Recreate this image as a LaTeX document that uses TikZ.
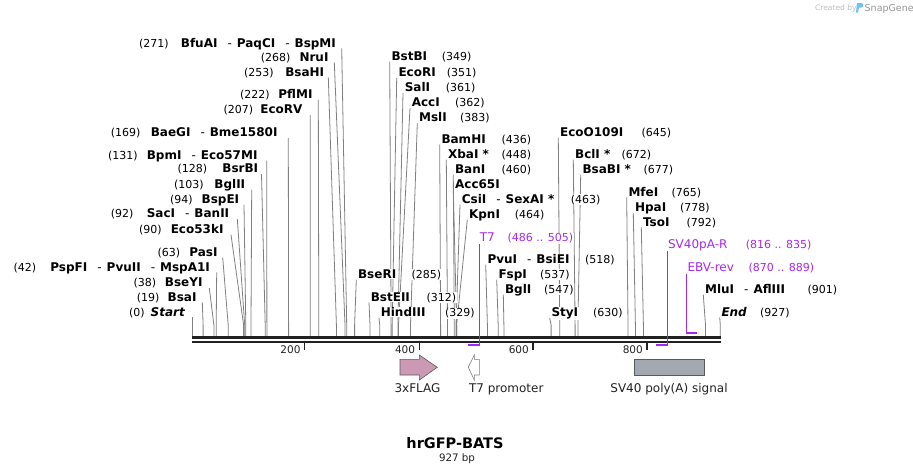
\documentclass[tikz,border=0pt]{standalone}
\usepackage{fontspec}
\setmainfont{DejaVu Sans}[ItalicFont={DejaVu Sans Oblique},BoldFont={DejaVu Sans Bold},BoldItalicFont={DejaVu Sans Bold Oblique}]
\definecolor{sitegray}{RGB}{128,128,128}
\definecolor{bbcol}{RGB}{34,34,34}
\definecolor{primer}{RGB}{164,41,240}
\definecolor{flag}{RGB}{204,153,180}
\definecolor{featedge}{RGB}{90,90,90}
\definecolor{sv40}{RGB}{163,169,176}
\definecolor{credit}{RGB}{190,190,190}
\definecolor{creditb}{RGB}{150,150,150}
\definecolor{logo}{RGB}{110,195,240}
\pgfdeclarelayer{bg}
\pgfsetlayers{bg,main}
\newcommand\dsh{\hspace{10pt}{\mdseries-}\hspace{5pt}}
% left group: id, xR, yc, line x, site x, num x, num, names
\newcommand\LS[8]{%
  \begin{pgfonlayer}{bg}
  \draw[sl] (#4,{#3+5.7}) coordinate (#1a) -- (#5,325) coordinate (#1b) -- (#5,336.3) coordinate (#1c);
  \end{pgfonlayer}
  \node[num,anchor=base west] (#1m) at (#6,{#3+4.4}) {#7};
  \node[enz,anchor=base east] (#1n) at (#2,{#3+4.4}) {#8};
}
% right group: id, xL, yc, site x, names, num x, num
\newcommand\RS[7]{%
  \begin{pgfonlayer}{bg}
  \draw[sl] ({#2-1},{#3+5.7}) coordinate (#1a) -- (#4,325) coordinate (#1b) -- (#4,336.3) coordinate (#1c);
  \end{pgfonlayer}
  \node[enz,anchor=base west] (#1n) at (#2,{#3+4.4}) {#5};
  \node[num,anchor=base west] (#1m) at (#6,{#3+4.4}) {#7};
}
\tikzset{
  enz/.style={font=\fontsize{12}{14}\selectfont\bfseries, inner sep=0.6pt, fill=white, text=black},
  num/.style={font=\fontsize{11}{13}\selectfont, inner sep=0.6pt, fill=white, text=black},
  prm/.style={font=\fontsize{12}{14}\selectfont, inner sep=0.6pt, fill=white, text=primer},
  prmn/.style={font=\fontsize{11}{13}\selectfont, inner sep=0.6pt, fill=white, text=primer},
  sl/.style={draw=sitegray, line width=0.8pt},
  feat/.style={font=\fontsize{12}{14}\selectfont, inner sep=0.5pt, text=bbcol},
  ticklab/.style={font=\fontsize{10.5}{12}\selectfont, inner sep=0.5pt, text=bbcol, anchor=base east},
  tickmark/.style={draw=bbcol, line width=1.4pt},
  pline/.style={draw=primer, line width=1pt},
  pbar/.style={draw=primer, line width=2pt},
}
\begin{document}
\begin{tikzpicture}[x=1pt,y=-1pt]
\useasboundingbox (0,0) rectangle (913,475);
\begin{pgfonlayer}{bg}
\fill[white] (0,0) rectangle (913,475);
\end{pgfonlayer}

% credit
\node[font=\fontsize{7.5}{9}\selectfont, text=credit, anchor=base west, inner sep=0] (cr) at (815,10.5) {Created by};
\fill[logo] (857,3) -- (861.5,3) .. controls (863.5,3) and (863.5,7.5) .. (861.5,7.5) -- (859,7.5) -- (858,12.5) -- (856,12.5) -- cycle;
\node[font=\fontsize{9.5}{11}\selectfont, text=creditb, anchor=base west, inner sep=0] (sg) at (864.5,11) {SnapGene};

% backbone
\draw[bbcol, line width=2.7pt] (192.3,337.3) coordinate (bbs) -- (720.7,337.3) coordinate (bbe);
\draw[bbcol, line width=2pt] (192.3,341.5) -- (720.7,341.5);
\foreach \tx/\tl in {304.7/200,419.3/400,533/600,647/800}{
  \draw[tickmark] (\tx,342.3) -- (\tx,349.5);
  \node[ticklab] at ({\tx-3.5},353) {\tl};
}

% left group
\LS{a271}{336.7}{42.7}{341.7}{346.7}{138.3}{(271)}{BfuAI\dsh PaqCI\dsh BspMI}
\LS{a268}{329.3}{56.7}{334.3}{345.0}{260}{(268)}{NruI}
\LS{a253}{325}{71.7}{328.3}{336.4}{243.3}{(253)}{BsaHI}
\LS{a222}{313.3}{94}{318.3}{318.8}{239.3}{(222)}{PflMI}
\LS{a207}{303.3}{109.3}{310.3}{310.2}{222.7}{(207)}{EcoRV}
\LS{a169}{278.3}{132.3}{288.3}{288.6}{110}{(169)}{BaeGI\dsh Bme1580I}
\LS{a131}{258.3}{155}{266.7}{266.9}{107.3}{(131)}{BpmI\dsh Eco57MI}
\LS{a128}{259}{168.3}{261.5}{265.2}{176.7}{(128)}{BsrBI}
\LS{a103}{246}{184}{251.7}{251.0}{173.3}{(103)}{BglII}
\LS{a94}{240}{199}{244}{245.8}{169.3}{(94)}{BspEI}
\LS{a92}{230}{213.3}{237.3}{244.7}{110}{(92)}{SacI\dsh BanII}
\LS{a90}{224.3}{229}{231}{243.6}{138.3}{(90)}{Eco53kI}
\LS{a63}{218.3}{251.7}{222.7}{228.2}{156.7}{(63)}{PasI}
\LS{a42}{210.7}{266.7}{216.7}{216.2}{12.7}{(42)}{PspFI\dsh PvuII\dsh MspA1I}
\LS{a38}{203.3}{282.3}{209.3}{213.9}{132.7}{(38)}{BseYI}
\LS{a19}{197.3}{296.7}{202.3}{203.1}{136}{(19)}{BsaI}
\LS{a0}{186}{311.7}{192.3}{192.3}{128.3}{(0)}{\textit{Start}}

% right group
\RS{b349}{390.7}{56}{391.1}{BstBI}{441}{(349)}
\RS{b351}{397.7}{72.3}{392.2}{EcoRI}{446}{(351)}
\RS{b361}{404}{87.3}{397.9}{SalI}{445}{(361)}
\RS{b362}{411}{102.3}{398.5}{AccI}{454.3}{(362)}
\RS{b383}{418.3}{117.3}{410.5}{MslI}{459.3}{(383)}
\RS{b436}{440.7}{139}{440.6}{BamHI}{500.7}{(436)}
\RS{b448}{447.3}{154}{447.5}{XbaI~*}{500.7}{(448)}
\RS{b460}{454.3}{169}{454.3}{BanI}{500.7}{(460)}
\begin{pgfonlayer}{bg}
\draw[sl] (453.3,189.7) coordinate (b464xa) -- (456.6,325) coordinate (b464xb) -- (456.6,336.3) coordinate (b464xc);
\end{pgfonlayer}
\node[enz,anchor=base west] (b464xn) at (454.3,188.4) {Acc65I};
\RS{b463}{461}{199}{456.0}{CsiI\dsh SexAI~*}{570}{(463)}
\RS{b464}{468.3}{214}{456.6}{KpnI}{514}{(464)}
\RS{b518}{486.7}{259}{487.4}{PvuI\dsh BsiEI}{584.3}{(518)}
\RS{b537}{497.7}{274}{498.2}{FspI}{539.3}{(537)}
\RS{b547}{504.3}{289}{503.9}{BglI}{543.3}{(547)}
\RS{b630}{550.7}{312.3}{551.1}{StyI}{592.3}{(630)}
\RS{b285}{357.3}{274}{354.6}{BseRI}{410.7}{(285)}
\RS{b312}{370}{296.7}{370.0}{BstEII}{425.7}{(312)}
\RS{b329}{380}{312.3}{379.7}{HindIII}{444.3}{(329)}
\RS{b645}{559.3}{132}{559.7}{EcoO109I}{640.7}{(645)}
\RS{b672}{574.3}{154}{575.1}{BclI~*}{620.7}{(672)}
\RS{b677}{581.7}{169}{577.9}{BsaBI~*}{642.7}{(677)}
\RS{b765}{627.7}{191.7}{628.0}{MfeI}{670.7}{(765)}
\RS{b778}{634.3}{207.3}{635.4}{HpaI}{679.3}{(778)}
\RS{b792}{642.3}{221.7}{643.4}{TsoI}{685.7}{(792)}
\RS{b901}{704.3}{289}{705.5}{MluI\dsh AflIII}{806.7}{(901)}
\RS{b927}{720.7}{311.7}{720.3}{\textit{End}}{759.3}{(927)}

% primers
\node[prm,anchor=base west] (t7n) at (479,241.7) {T7};
\node[prmn,anchor=base west] (t7m) at (506.7,241.7) {(486 .. 505)};
\draw[pline] (479.3,243.5) coordinate (t7a) -- (479.3,345.3) coordinate (t7b);
\draw[pbar] (468.3,345.3) coordinate (t7c) -- (480,345.3);
\node[prm,anchor=base west] (svn) at (667.3,248.4) {SV40pA-R};
\node[prmn,anchor=base west] (svm) at (745,248.4) {(816 .. 835)};
\draw[pline] (667.3,250.5) coordinate (sva) -- (667.3,345.3) coordinate (svb);
\draw[pbar] (656,345.3) coordinate (svc) -- (668,345.3);
\node[prm,anchor=base west] (ebn) at (686.7,271.1) {EBV-rev};
\node[prmn,anchor=base west] (ebm) at (747.7,271.1) {(870 .. 889)};
\draw[pline] (686.7,273.5) coordinate (eba) -- (686.7,332.7) coordinate (ebb);
\draw[pbar] (686,332.7) -- (696.7,332.7) coordinate (ebc);

% features
\draw[fill=flag, draw=featedge, line width=0.6pt] (400,359.3) -- (419.3,359.3) -- (419.3,355) -- (437.3,367.3) -- (419.3,380) -- (419.3,375) -- (400,375) -- cycle;
\draw[fill=white, draw=featedge!80, line width=0.6pt] (468.3,367.3) -- (474.3,355) -- (474.3,359.3) -- (479.3,359.3) -- (479.3,375) -- (474.3,375) -- (474.3,380) -- cycle;
\draw[fill=sv40, draw=featedge, line width=0.6pt] (634.3,359.3) rectangle (704.3,375);
\node[feat,anchor=base] (f1) at (417.5,392.7) {3xFLAG};
\node[feat,anchor=base west] (f2) at (468.3,392.7) {T7 promoter};
\node[feat,anchor=base] (f3) at (669,392.7) {SV40 poly(A) signal};

% title
\node[font=\fontsize{14.5}{17}\selectfont\bfseries, text=black, inner sep=0] (title) at (455,443.5) {hrGFP-BATS};
\node[font=\fontsize{10.3}{12}\selectfont, text=bbcol, inner sep=0] (bp) at (457,459) {927 bp};
\end{tikzpicture}
\end{document}
